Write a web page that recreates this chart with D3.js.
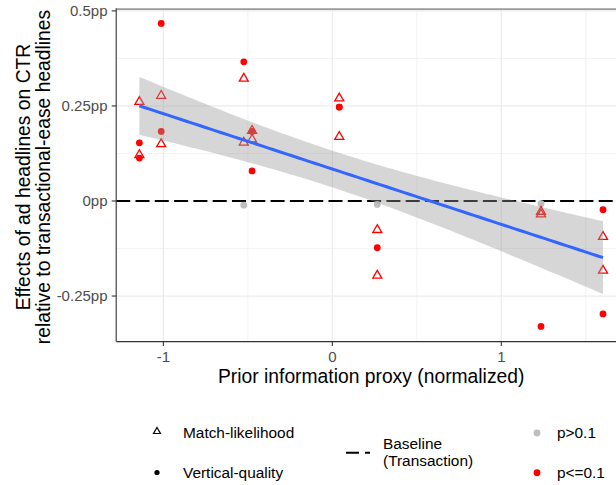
<!DOCTYPE html>
<html><head><meta charset="utf-8">
<script src="https://cdn.jsdelivr.net/npm/d3@7"></script>
<style>body{margin:0;background:#fff} svg{display:block} text{font-family:"Liberation Sans",Arial,Helvetica,sans-serif}</style>
</head><body><svg id="c" width="616" height="485"></svg>
<script>
// ---- data ----
const pointX = [
  -1.142,-1.142,-1.142,-1.142,
  -1.013,-1.013,-1.013,-1.013,
  -0.524,-0.524,-0.524,-0.524,
  -0.475,-0.475,-0.475,-0.475,
   0.041, 0.041, 0.041, 0.041,
   0.266, 0.266, 0.266, 0.266,
   1.235, 1.235, 1.235, 1.235,
   1.602, 1.602, 1.602, 1.602];
const pointY = [
   0.261, 0.153, 0.121, 0.113,
   0.467, 0.277, 0.183, 0.150,
   0.366, 0.322, 0.154,-0.011,
   0.183, 0.185, 0.162, 0.079,
   0.270, 0.247, 0.169, 0.247,
  -0.009,-0.076,-0.123,-0.196,
  -0.007,-0.028,-0.035,-0.330,
  -0.023,-0.094,-0.183,-0.297];
const pointType = [
  "M","V","M","V",
  "V","M","V","M",
  "V","M","M","V",
  "V","M","M","V",
  "M","V","M","V",
  "V","M","V","M",
  "V","M","M","V",
  "V","M","M","V"];
const pointSig = [
  "s","s","s","s",
  "s","s","s","s",
  "s","s","s","n",
  "s","s","s","s",
  "s","s","s","s",
  "n","s","s","s",
  "n","s","s","s",
  "s","s","s","s"];
const xTicks = [-1, 0, 1];
const xTickLabels = ["-1", "0", "1"];
const yTicks = [-0.25, 0, 0.25, 0.5];
const yTickLabels = ["-0.25pp", "0pp", "0.25pp", "0.5pp"];
const xMinor = [-0.5, 0.5, 1.5];
const yMinor = [-0.125, 0.125, 0.375];
const baselineValue = [0];
const shapeLegend = ["Match-likelihood", "Vertical-quality"];
const lineLegend = ["Baseline", "(Transaction)"];
const colorLegend = ["p>0.1", "p<=0.1"];
const tCrit = 2.042; // 95% t quantile, df = n-2

const svg = d3.select("#c");
const pts = pointX.map((x,i)=>({x, y:pointY[i], t:pointType[i], s:pointSig[i]}));

// ggplot-like 5% expansion
const xe = d3.extent(pointX), ye = d3.extent(pointY);
const xd = [xe[0]-0.05*(xe[1]-xe[0]), xe[1]+0.05*(xe[1]-xe[0])];
const yd = [ye[0]-0.05*(ye[1]-ye[0]), ye[1]+0.05*(ye[1]-ye[0])];
const x = d3.scaleLinear().domain(xd).range([116.2, 626.2]);
const y = d3.scaleLinear().domain(yd).range([341.6, 8.3]);
const L = x.range()[0], R = x.range()[1], T = y.range()[1], B = y.range()[0];

const g = svg.append("g");
// grid
g.selectAll(".xm").data(xMinor).join("line").attr("x1",d=>x(d)).attr("x2",d=>x(d)).attr("y1",T).attr("y2",B).attr("stroke","#ebebeb").attr("stroke-width",0.6);
g.selectAll(".ym").data(yMinor).join("line").attr("y1",d=>y(d)).attr("y2",d=>y(d)).attr("x1",L).attr("x2",R).attr("stroke","#ebebeb").attr("stroke-width",0.6);
g.selectAll(".xM").data(xTicks).join("line").attr("x1",d=>x(d)).attr("x2",d=>x(d)).attr("y1",T).attr("y2",B).attr("stroke","#ebebeb").attr("stroke-width",1.2);
g.selectAll(".yM").data(yTicks).join("line").attr("y1",d=>y(d)).attr("y2",d=>y(d)).attr("x1",L).attr("x2",R).attr("stroke","#ebebeb").attr("stroke-width",1.2);

// baseline dashed
g.selectAll(".base").data(baselineValue).join("line").attr("x1",L).attr("x2",R).attr("y1",d=>y(d)).attr("y2",d=>y(d))
  .attr("stroke","#000").attr("stroke-width",2).attr("stroke-dasharray","14,5.3");

// points
const col = s => s==="s" ? "#FF0000" : "#BEBEBE";
function tri(s){ const h = s*Math.sqrt(3)/2; return `M0,${-2*h/3}L${s/2},${h/3}L${-s/2},${h/3}Z`; }
g.selectAll(".c").data(pts.filter(p=>p.t==="V")).join("circle")
  .attr("cx",d=>x(d.x)).attr("cy",d=>y(d.y)).attr("r",3.4).attr("fill",d=>col(d.s));
g.selectAll(".t").data(pts.filter(p=>p.t==="M")).join("path")
  .attr("d",tri(9)).attr("transform",d=>`translate(${x(d.x)},${y(d.y)})`)
  .attr("fill","none").attr("stroke",d=>col(d.s)).attr("stroke-width",1.3);

// linear fit with 95% CI
const n = pts.length, mx = d3.mean(pointX), my = d3.mean(pointY);
const sxx = d3.sum(pointX, v=>(v-mx)**2), sxy = d3.sum(pts, p=>(p.x-mx)*(p.y-my));
const b1 = sxy/sxx, b0 = my - b1*mx;
const sres = Math.sqrt(d3.sum(pts, p=>(p.y-b0-b1*p.x)**2)/(n-2));
const grid = d3.range(80).map(i=> xe[0] + i*(xe[1]-xe[0])/79);
const fit = grid.map(v=>{const f=b0+b1*v, se=sres*Math.sqrt(1/n+(v-mx)**2/sxx); return {x:v,f,lo:f-tCrit*se,hi:f+tCrit*se};});
g.append("path").datum(fit).attr("d", d3.area().x(d=>x(d.x)).y0(d=>y(d.lo)).y1(d=>y(d.hi)))
  .attr("fill","#999999").attr("fill-opacity",0.4);
g.append("path").datum(fit).attr("d", d3.line().x(d=>x(d.x)).y(d=>y(d.f)))
  .attr("fill","none").attr("stroke","#3366FF").attr("stroke-width",3);

// top border
g.append("line").attr("x1",L).attr("x2",R).attr("y1",T+0.8).attr("y2",T+0.8).attr("stroke","#9a9a9a").attr("stroke-width",1.6);
// axes lines
g.append("line").attr("x1",L).attr("x2",L).attr("y1",T).attr("y2",B).attr("stroke","#333").attr("stroke-width",1.1);
g.append("line").attr("x1",L).attr("x2",R).attr("y1",B).attr("y2",B).attr("stroke","#333").attr("stroke-width",1.1);
// ticks
g.selectAll(".xt").data(xTicks).join("line").attr("x1",d=>x(d)).attr("x2",d=>x(d)).attr("y1",B).attr("y2",B+4.5).attr("stroke","#333").attr("stroke-width",1.1);
g.selectAll(".yt").data(yTicks).join("line").attr("y1",d=>y(d)).attr("y2",d=>y(d)).attr("x1",L-4.5).attr("x2",L).attr("stroke","#333").attr("stroke-width",1.1);
// tick labels
g.selectAll(".xl").data(xTicks).join("text").attr("x",d=>x(d)).attr("y",362).attr("text-anchor","middle")
  .attr("font-size",15).attr("fill","#4d4d4d").text((d,i)=>xTickLabels[i]);
g.selectAll(".yl").data(yTicks).join("text").attr("x",107.5).attr("y",d=>y(d)+5.3).attr("text-anchor","end")
  .attr("font-size",15).attr("fill","#4d4d4d").text((d,i)=>yTickLabels[i]);

// axis titles
svg.append("text").attr("x",371.2).attr("y",383.3).attr("text-anchor","middle").attr("font-size",19.3).attr("fill","#000")
  .text("Prior information proxy (normalized)");
svg.append("text").attr("transform","translate(29.5,177) rotate(-90)").attr("text-anchor","middle").attr("font-size",19.3)
  .text("Effects of ad headlines on CTR");
svg.append("text").attr("transform","translate(50,177) rotate(-90)").attr("text-anchor","middle").attr("font-size",19.3)
  .text("relative to transactional-ease headlines");

// legends
const lg = svg.append("g").attr("font-size",15.4);
lg.append("path").attr("d",tri(7)).attr("transform","translate(157,431.5)").attr("fill","none").attr("stroke","#000").attr("stroke-width",1.2);
lg.append("circle").attr("cx",157).attr("cy",472.5).attr("r",2.6).attr("fill","#000");
lg.selectAll(".sl").data(shapeLegend).join("text").attr("x",183).attr("y",(d,i)=>438+i*39.5).text(d=>d);
lg.append("line").attr("x1",346).attr("x2",370).attr("y1",452.7).attr("y2",452.7).attr("stroke","#000").attr("stroke-width",2).attr("stroke-dasharray","13,6");
lg.selectAll(".ll").data(lineLegend).join("text").attr("x",383).attr("y",(d,i)=>448.8+i*16.8).text(d=>d);
lg.selectAll(".cc").data(["n","s"]).join("circle").attr("cx",537).attr("cy",(d,i)=>433+i*39.7).attr("r",3.4).attr("fill",d=>col(d));
lg.selectAll(".cl").data(colorLegend).join("text").attr("x",557).attr("y",(d,i)=>438+i*39.5).text(d=>d);
</script></body></html>
